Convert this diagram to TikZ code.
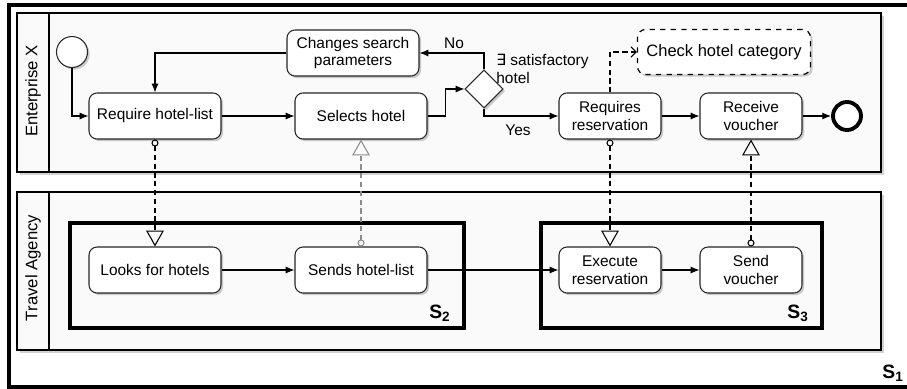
\documentclass[tikz,border=0pt]{standalone}
\usepackage{fontspec}
\setsansfont{Liberation Sans}
\newfontfamily\symfont{DejaVu Sans}
\usetikzlibrary{shapes.geometric}
\usetikzlibrary{positioning}
\usetikzlibrary{arrows.meta}
\usetikzlibrary{shadows}
\tikzset{
    dropsh/.style = {drop shadow={shadow xshift=1.2pt,shadow yshift=-1.2pt,fill=black!40}},
    task/.style = {rectangle, rounded corners=0.16cm, draw=black!85, line width=0.6pt, fill=white, align=center, minimum width=2.64cm, minimum height=0.92cm, inner sep=1pt, dropsh},
    tasks/.style = {task, minimum width=2.04cm},
    taskd/.style = {task, dashed, draw=black, line width=0.7pt, minimum width=3.46cm, minimum height=0.9cm, font=\sffamily\fontsize{9.4}{11}\selectfont},
    startev/.style = {circle, draw=black!85, line width=0.6pt, fill=white, minimum size=0.62cm, inner sep=0pt, dropsh},
    endev/.style = {circle, draw=black, line width=2.2pt, fill=white, minimum size=0.56cm, inner sep=0pt},
    gate/.style = {diamond, draw=black!85, line width=0.6pt, fill=white, minimum size=0.76cm, inner sep=0pt, aspect=1, dropsh},
    pool/.style = {draw=black, line width=0.7pt, fill=black!2, drop shadow={shadow xshift=1.8pt,shadow yshift=-1.8pt,fill=black!35}},
    sbox/.style = {draw=black, line width=2.1pt},
    edgen/.style = {-{Latex[length=5pt,width=4pt]}, line width=0.6pt},
    msgn/.style = {{Circle[open,length=4pt,width=4pt]}-{Triangle[open,length=9pt,width=10pt]}, line width=0.6pt, dash pattern=on 3pt off 2pt},
    msgg/.style = {msgn, draw=black!45},
    assoc/.style = {-{Straight Barb[length=3pt,width=6pt]}, line width=0.6pt, dash pattern=on 3pt off 2pt},
    lanelbl/.style = {rotate=90, font=\sffamily\fontsize{9.5}{11}\selectfont},
    slbl/.style = {font=\sffamily\bfseries\fontsize{11}{12}\selectfont}
}

\begin{document}
\begin{tikzpicture}[x=0.02cm,y=-0.02cm,font=\sffamily\fontsize{8.8}{10.2}\selectfont]
\useasboundingbox (0,0) rectangle (907,389);
% S1 and the two pools
\draw[line width=1.8pt] (9,5) rectangle (915,387);
\draw[pool] (17,13) rectangle (881,172);
\draw[line width=0.6pt] (49,13) -- (49,172);
\draw[pool] (17,192) rectangle (881,350);
\draw[line width=0.6pt] (49,192) -- (49,350);
\node[lanelbl] at (33,91) (lx) {Enterprise X};
\node[lanelbl] at (33,268) (lt) {Travel Agency};
% S2 and S3
\draw[sbox] (70,223) rectangle (464,328);
\draw[sbox] (541,223) rectangle (822,328);
\node[slbl] at (440,313) (s2) {S\textsubscript{2}};
\node[slbl] at (798,313) (s3) {S\textsubscript{3}};
\node[slbl] at (893,373) (s1) {S\textsubscript{1}};
%
\node[startev] at (72,52) (st) {};
\node[task] at (155,116) (a1) {Require hotel-list};
\node[task] at (353,53) (a2) {Changes search\\parameters};
\node[task] at (361,116) (a3) {Selects hotel};
\node[gate] at (484,89) (g1) {};
\node[tasks] at (610,116) (a4) {Requires\\reservation};
\node[tasks] at (751,116) (a5) {Receive\\voucher};
\node[endev] at (847,116) (en) {};
\node[taskd] at (724,52) (a6) {Check hotel category};
\node[anchor=west, align=left, inner sep=0pt] at (496,69) (cond) {{\symfont ∃} satisfactory\\hotel};
\node at (454,43) (lno) {No};
\node at (518,130) (lyes) {Yes};
%
\node[task] at (155,270) (b1) {Looks for hotels};
\node[task] at (361,270) (b2) {Sends hotel-list};
\node[tasks] at (610,270) (b3) {Execute\\reservation};
\node[tasks] at (751,270) (b4) {Send\\voucher};
%
\draw[edgen] (st.south) |- (a1.west);
\draw[edgen] (a1) -- (a3);
\draw[edgen] (a3.east) -- ++(18,0) |- (g1.west);
\draw[edgen] (g1.north) |- (a2.east);
\draw[edgen] (a2.west) -| (a1.north);
\draw[edgen] (g1.south) |- (a4.west);
\draw[edgen] (a4) -- (a5);
\draw[edgen] (a5) -- (en);
\draw[assoc] (a4.north) |- (a6.west);
\draw[edgen] (b1) -- (b2);
\draw[edgen] (b2) -- (b3);
\draw[edgen] (b3) -- (b4);
%
\draw[msgn] (a1.south) -- (b1.north);
\draw[msgg] (b2.north) -- (a3.south);
\draw[msgn] (a4.south) -- (b3.north);
\draw[msgn] (b4.north) -- (a5.south);

\end{tikzpicture}
\end{document}
